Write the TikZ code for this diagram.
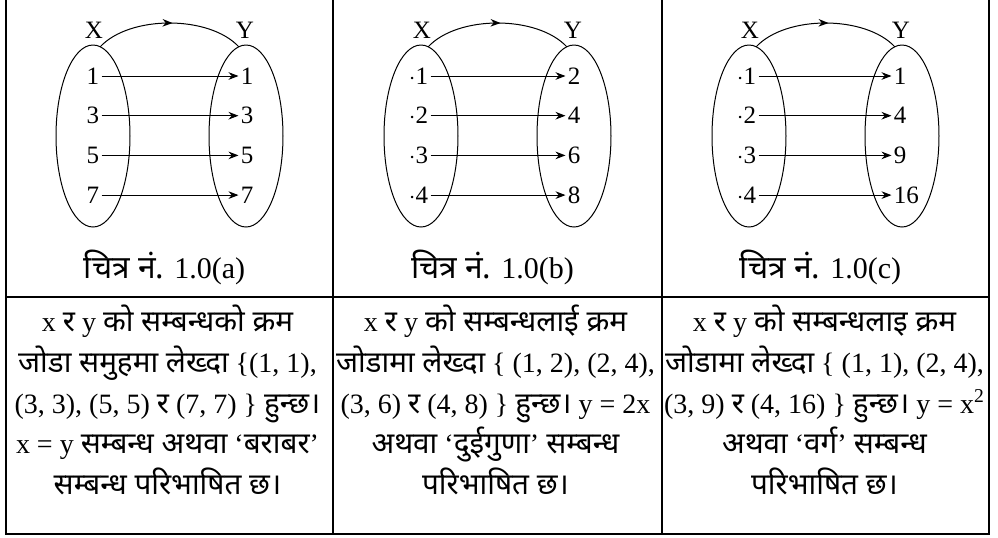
\documentclass[tikz,border=0pt]{standalone}
\usepackage{fontspec}
\setmainfont{Liberation Serif}
\newfontfamily\devfont[Script=Devanagari,Scale=1.06]{Noto Sans}
\newcommand{\nep}[1]{{\devfont #1}}
\usetikzlibrary{arrows.meta,decorations.markings}

\tikzset{
  num/.style={inner sep=1pt, font=\fontsize{12.5}{15}\selectfont},
  caption/.style={font=\fontsize{15}{17}\selectfont},
  mapto/.style={-{Stealth[length=5pt,width=3.8pt]}, line width=0.5pt},
  midarrow/.style={line width=0.5pt, postaction=decorate,
    decoration={markings, mark=at position 0.52 with {\arrow{Stealth[length=5pt,width=3.8pt]}}}},
  desc/.style={align=center, font=\fontsize{14}{20.3}\selectfont},
  rule/.style={line width=1pt},
}

\begin{document}
\begin{tikzpicture}[x=0.5pt,y=-0.5pt]
        \useasboundingbox (0,0) rectangle (998,537);
        % 表の枠
        \draw[rule](6,0)--(6,534)--(989,534)--(989,0);
        \draw[rule](333,0)--(333,534);
        \draw[rule](662,0)--(662,534);
        \draw[rule](6,297)--(989,297);
        % (a)
        \begin{scope}[shift={(169.5,0)}]
            \draw[line width=0.5pt](-76.5,136) ellipse (37 and 91);
            \draw[line width=0.5pt](76.5,136) ellipse (37 and 91);
            \node[num](Xa)at(-75.5,30){X};
            \node[num](Ya)at(75.5,30){Y};
            \coordinate(sa)at(-69.5,47);
            \coordinate(ta)at(69.5,47);
            \draw[midarrow](sa) .. controls (-40,15) and (40,15) .. (ta);
            \foreach \l/\r [count=\i] in {1/1,3/3,5/5,7/7}{
                \node[num,anchor=east](La\i)at(-68,36.3+39.7*\i){\l};
                \node[num,anchor=west](Ra\i)at(69,36.3+39.7*\i){\r};
                \draw[mapto](La\i)--(Ra\i);
            }
            \node[caption](capa)at(-5,267){\nep{चित्र नं.} 1.0(a)};
            \node[desc](txta)at(-2,400){x \nep{र} y \nep{को सम्बन्धको क्रम}\\
                \nep{जोडा समुहमा लेख्दा} \{(1, 1),\\
                (3, 3), (5, 5) \nep{र} (7, 7) \} \nep{हुन्छ।}\\
                x = y \nep{सम्बन्ध अथवा} ‘\nep{बराबर}’\\
                \nep{सम्बन्ध परिभाषित छ।}};
        \end{scope}
        % (b)
        \begin{scope}[shift={(497.5,0)}]
            \draw[line width=0.5pt](-76.5,136) ellipse (37 and 91);
            \draw[line width=0.5pt](76.5,136) ellipse (37 and 91);
            \node[num](Xb)at(-75.5,30){X};
            \node[num](Yb)at(75.5,30){Y};
            \coordinate(sb)at(-69.5,47);
            \coordinate(tb)at(69.5,47);
            \draw[midarrow](sb) .. controls (-40,15) and (40,15) .. (tb);
            \foreach \l/\r [count=\i] in {1/2,2/4,3/6,4/8}{
                \node[num,anchor=east](Lb\i)at(-67,36.3+39.7*\i){$\cdot$\l};
                \node[num,anchor=west](Rb\i)at(68,36.3+39.7*\i){\r};
                \draw[mapto](Lb\i)--(Rb\i);
            }
            \node[caption](capb)at(-5,267){\nep{चित्र नं.} 1.0(b)};
            \node[desc](txtb)at(-2,400){x \nep{र} y \nep{को सम्बन्धलाई क्रम}\\
                \nep{जोडामा लेख्दा} \{ (1, 2), (2, 4),\\
                (3, 6) \nep{र} (4, 8) \} \nep{हुन्छ।} y = 2x\\
                \nep{अथवा} ‘\nep{दुईगुणा}’ \nep{सम्बन्ध}\\
                \nep{परिभाषित छ।}};
        \end{scope}
        % (c)
        \begin{scope}[shift={(825.5,0)}]
            \draw[line width=0.5pt](-76.5,136) ellipse (37 and 91);
            \draw[line width=0.5pt](76.5,136) ellipse (37 and 91);
            \node[num](Xc)at(-75.5,30){X};
            \node[num](Yc)at(75.5,30){Y};
            \coordinate(sc)at(-69.5,47);
            \coordinate(tc)at(69.5,47);
            \draw[midarrow](sc) .. controls (-40,15) and (40,15) .. (tc);
            \foreach \l/\r [count=\i] in {1/1,2/4,3/9,4/16}{
                \node[num,anchor=east](Lc\i)at(-67,36.3+39.7*\i){$\cdot$\l};
                \node[num,anchor=west](Rc\i)at(66,36.3+39.7*\i){\r};
                \draw[mapto](Lc\i)--(Rc\i);
            }
            \node[caption](capc)at(-5,267){\nep{चित्र नं.} 1.0(c)};
            \node[desc](txtc)at(-1,400){x \nep{र} y \nep{को सम्बन्धलाइ क्रम}\\
                \nep{जोडामा लेख्दा} \{ (1, 1), (2, 4),\\
                (3, 9) \nep{र} (4, 16) \} \nep{हुन्छ।} y = x\textsuperscript{2}\\
                \nep{अथवा} ‘\nep{वर्ग}’ \nep{सम्बन्ध}\\
                \nep{परिभाषित छ।}};
        \end{scope}
    \end{tikzpicture}
\end{document}
